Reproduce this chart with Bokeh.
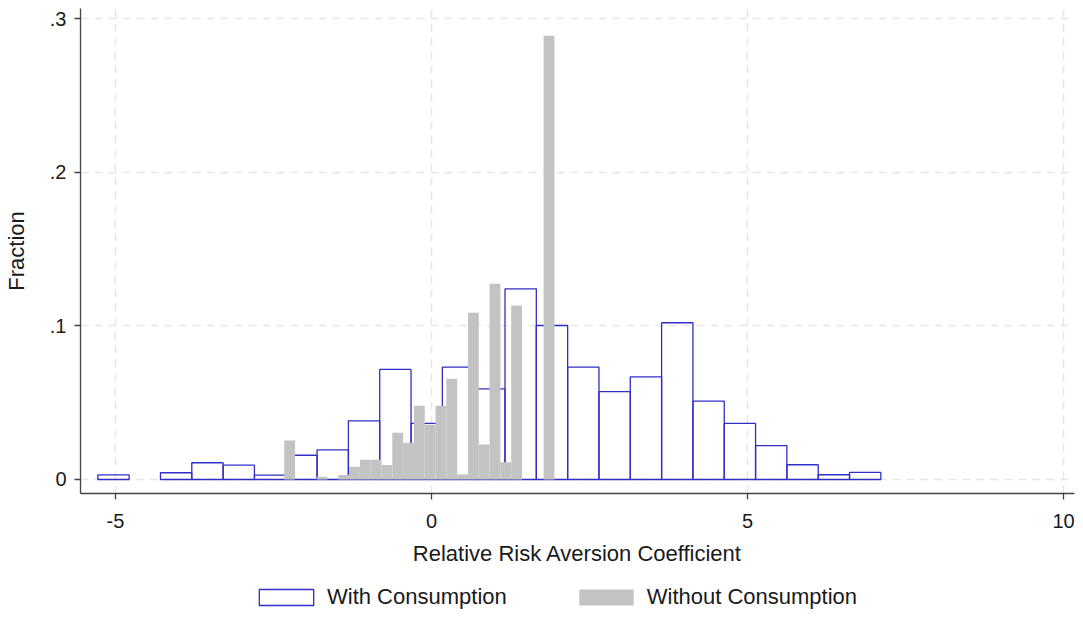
from bokeh.plotting import figure
from bokeh.layouts import column
from bokeh.models import Legend, LegendItem, FixedTicker, Range1d, ColumnDataSource
from bokeh.embed import file_html
from bokeh.resources import INLINE

# ---- data ----
with_min = -5.28
with_width = 0.4956
with_frac = [0.0030, 0.0, 0.0044, 0.0109, 0.0093, 0.0028, 0.0158, 0.0193,
             0.0382, 0.0717, 0.0365, 0.0732, 0.0590, 0.1242, 0.1003, 0.0732,
             0.0573, 0.0669, 0.1021, 0.0510, 0.0365, 0.0221, 0.0096, 0.0031,
             0.0046]

without_min = -2.33
without_width = 0.171
without_frac = [0.0254, 0.0, 0.0, 0.0018, 0.0, 0.0030, 0.0083, 0.0128,
                0.0128, 0.0094, 0.0304, 0.0239, 0.0480, 0.0356, 0.0480, 0.0656,
                0.0033, 0.1086, 0.0228, 0.1275, 0.0113, 0.1134, 0.0, 0.0,
                0.2890]

x_ticks = [-5, 0, 5, 10]
x_tick_labels = ["-5", "0", "5", "10"]
y_ticks = [0, 0.1, 0.2, 0.3]
y_tick_labels = ["0", ".1", ".2", ".3"]
series_labels = ["With Consumption", "Without Consumption"]
x_title = "Relative Risk Aversion Coefficient"
y_title = "Fraction"


def hist_source(start, width, fracs):
    left, right, top = [], [], []
    for i, f in enumerate(fracs):
        if f > 0:
            left.append(start + i * width)
            right.append(start + (i + 1) * width)
            top.append(f)
    return ColumnDataSource(dict(left=left, right=right, top=top, bottom=[0] * len(top)))


FONT = "Liberation Sans"
TEXT = "#1a1a1a"
BLUE = "#2f2fc8"
GRAY = "#c3c3c3"

p = figure(frame_width=994, frame_height=485, output_backend="svg", toolbar_location=None,
           x_range=Range1d(-5.554, 10.174), y_range=Range1d(-0.00912, 0.3068),
           min_border_left=75, min_border_right=4, min_border_top=8,
           min_border_bottom=80)
p.outline_line_color = None
p.background_fill_color = "white"
p.border_fill_color = "white"

p.quad(left="left", right="right", top="top", bottom="bottom",
       source=hist_source(with_min, with_width, with_frac),
       fill_color=None, line_color=BLUE, line_width=1.3)
p.quad(left="left", right="right", top="top", bottom="bottom",
       source=hist_source(without_min, without_width, without_frac),
       fill_color=GRAY, line_color=None)

# axes
p.xaxis.ticker = FixedTicker(ticks=x_ticks)
p.yaxis.ticker = FixedTicker(ticks=y_ticks)
p.xaxis.major_label_overrides = {t: s for t, s in zip(x_ticks, x_tick_labels)}
p.yaxis.major_label_overrides = {t: s for t, s in zip(y_ticks, y_tick_labels)}
for ax in (p.xaxis[0], p.yaxis[0]):
    ax.axis_line_color = "#444444"
    ax.axis_line_width = 1.3
    ax.major_tick_line_color = "#444444"
    ax.major_tick_line_width = 1.3
    ax.major_tick_out = 6
    ax.major_tick_in = 0
    ax.minor_tick_line_color = None
    ax.major_label_text_font = FONT
    ax.major_label_text_font_size = "20px"
    ax.major_label_text_color = TEXT
    ax.axis_label_text_font = FONT
    ax.axis_label_text_font_size = "22px"
    ax.axis_label_text_font_style = "normal"
    ax.axis_label_text_color = TEXT
p.xaxis.axis_label = x_title
p.yaxis.axis_label = y_title
p.xaxis.major_label_standoff = 14
p.xaxis.axis_label_standoff = 10
p.yaxis.major_label_standoff = 8
p.yaxis.axis_label_standoff = 18

# grid
p.xgrid.ticker = FixedTicker(ticks=x_ticks)
p.ygrid.ticker = FixedTicker(ticks=y_ticks)
for g in (p.xgrid[0], p.ygrid[0]):
    g.grid_line_color = "#e6e6e6"
    g.grid_line_width = 1.5
    g.grid_line_dash = "8 6"

# ---- legend strip below the chart ----
lg = figure(frame_width=75 + 994 + 4, frame_height=40, output_backend="svg",
            toolbar_location=None, x_axis_type=None, y_axis_type=None,
            x_range=Range1d(0, 1), y_range=Range1d(0, 1),
            min_border=0, min_border_left=0, min_border_right=0,
            min_border_top=0, min_border_bottom=0)
lg.outline_line_color = None
lg.grid.visible = False
key_src = ColumnDataSource(dict(left=[5], right=[6], top=[5], bottom=[4]))
k_with = lg.quad(left="left", right="right", top="top", bottom="bottom", source=key_src,
                 fill_color=None, line_color=BLUE, line_width=1.3)
k_without = lg.quad(left="left", right="right", top="top", bottom="bottom", source=key_src,
                    fill_color=GRAY, line_color=None)
legend = Legend(items=[LegendItem(label=series_labels[0], renderers=[k_with]),
                       LegendItem(label=series_labels[1], renderers=[k_without])],
                orientation="horizontal", location=(252, 3),
                glyph_width=68, glyph_height=20, label_standoff=7, spacing=65,
                label_text_font=FONT, label_text_font_size="22px",
                label_text_color=TEXT, border_line_color=None,
                background_fill_alpha=0, padding=0, margin=0)
lg.add_layout(legend, "center")

layout = column(p, lg, spacing=0)
open("out.html", "w").write(file_html(layout, INLINE))
